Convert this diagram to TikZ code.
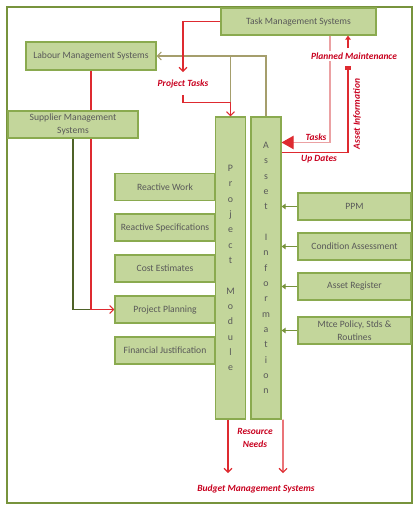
\documentclass[tikz,border=0pt]{standalone}
\usepackage{fontspec}
\setmainfont{Carlito}
\usetikzlibrary{arrows.meta,calc}
\definecolor{boxfill}{HTML}{C3D69B}
\definecolor{boxline}{HTML}{8AAA4F}
\definecolor{framegreen}{HTML}{77933C}
\definecolor{boxtext}{HTML}{595959}
\definecolor{linkred}{HTML}{DE2A30}
\definecolor{labelred}{HTML}{C8001E}
\definecolor{linkpink}{HTML}{EBA1A3}
\definecolor{linkkhaki}{HTML}{A59E6C}
\definecolor{linkdark}{HTML}{4F6228}
\newcommand{\px}{0.75pt}
\tikzset{
  sysbox/.style={draw=boxline, fill=boxfill, line width=0.8pt, text=boxtext,
                 inner sep=1pt, align=center, font=\fontsize{7.2}{9.8}\selectfont},
  barbox/.style={sysbox, minimum width=30*\px, minimum height=302*\px,
                 font=\fontsize{7.4}{11.5}\selectfont},
  lbox/.style={sysbox, minimum width=100*\px, minimum height=27*\px},
  rbox/.style={sysbox, minimum width=113*\px, minimum height=27*\px},
  redlabel/.style={text=labelred, inner sep=1pt, align=center,
                   font=\fontsize{7.1}{9.8}\selectfont\bfseries\itshape},
  redlink/.style={draw=linkred, line width=0.8pt},
  pinklink/.style={draw=linkpink, line width=0.8pt},
  khakilink/.style={draw=linkkhaki, line width=0.8pt},
  darklink/.style={draw=linkdark, line width=0.8pt},
  greenlink/.style={draw=framegreen, line width=0.8pt},
  opentip/.tip={Straight Barb[length=3pt,width=6pt]},
  smalltip/.tip={Triangle[length=3pt,width=4pt]},
}
\begin{document}
\begin{tikzpicture}[x=0.75pt,y=-0.75pt]
\useasboundingbox (0,0) rectangle (419,512);
\draw[framegreen, line width=0.9pt] (7,7) rectangle (412,503);

\node[sysbox, minimum width=155*\px, minimum height=27*\px] (tms) at (298.5,21.5) {Task Management Systems};
\node[sysbox, minimum width=130*\px, minimum height=28*\px] (lms) at (91,56) {Labour Management Systems};
\node[sysbox, minimum width=130*\px, minimum height=27*\px] (sms) at (73,124.5) {Supplier Management\\Systems};

\node[lbox] (rw) at (165,187) {Reactive Work};
\node[lbox] (rs) at (165,227.5) {Reactive Specifications};
\node[lbox] (ce) at (165,268.5) {Cost Estimates};
\node[lbox] (pp) at (165,309.5) {Project Planning};
\node[lbox] (fj) at (165,350.5) {Financial Justification};

\node[barbox] (pm) at (230.5,268) {P\\r\\o\\j\\e\\c\\t\\~\\M\\o\\d\\u\\l\\e};
\node[barbox] (ai) at (266,268) {A\\s\\s\\e\\t\\~\\I\\n\\f\\o\\r\\m\\a\\t\\i\\o\\n};

\node[rbox] (ppm) at (354.5,206.5) {PPM};
\node[rbox] (ca) at (354.5,246.5) {Condition Assessment};
\node[rbox] (ar) at (354.5,286.5) {Asset Register};
\node[rbox] (mp) at (354.5,330.5) {Mtce Policy, Stds \&\\Routines};

\coordinate (ptup) at (183,72);
\coordinate (ptdown) at (183,95);
\coordinate (pmsq) at (348,66);
\coordinate (pmtop) at (348,48);
\coordinate (bm1) at (228,473);
\coordinate (bm2) at (283,473);

\draw[greenlink, -{smalltip}] (ppm.west) -- (ppm.west -| ai.east);
\draw[greenlink, -{smalltip}] (ca.west) -- (ca.west -| ai.east);
\draw[greenlink, -{smalltip}] (ar.west) -- (ar.west -| ai.east);
\draw[greenlink, -{smalltip}] (mp.west) -- (mp.west -| ai.east);

\draw[khakilink, -{opentip}] (ai.north) |- (lms.east);
\draw[khakilink] (lms.east -| pm.north) -- (pm.north);

\draw[redlink, -{opentip}] (tms.west) -| (ptup);
\draw[redlink, -{opentip}] (ptdown) |- ($(pm.north)+(0,-14)$) -- (pm.north);

\draw[darklink] (sms.south) |- (pp.west);
\draw[redlink] (lms.south) -- (lms.south |- sms.north);
\draw[redlink, -{opentip}] (lms.south |- sms.south) |- (pp.west);

\draw[pinklink, -{Triangle[length=9pt,width=10pt,color=linkred]}] ($(tms.south)+(31.5,0)$) |- ($(ai.north east)+(0,26)$);
\draw[redlink, -{Square[length=3pt,width=5pt]}] ($(ai.north east)+(0,36)$) -| (pmsq);
\draw[redlink, -{smalltip}] (pmtop) -- ($(tms.south)+(49.5,0)$);

\draw[redlink, -{opentip}] ($(pm.south)+(-2.5,0)$) -- (bm1);
\draw[redlink, -{opentip}] ($(ai.south east)+(1.5,0)$) -- (bm2);

\node[redlabel] (ptl) at (183,84) {Project Tasks};
\node[redlabel, fill=white] (pml) at (354,56) {Planned Maintenance};
\node[redlabel, rotate=90] (ail) at (357,114) {Asset Information};
\node[redlabel] (tkl) at (316,137) {Tasks};
\node[redlabel] (udl) at (319,159) {Up Dates};
\node[redlabel] (rnl) at (255,438) {Resource\\Needs};
\node[redlabel] (bml) at (256,489) {Budget Management Systems};
\end{tikzpicture}
\end{document}
